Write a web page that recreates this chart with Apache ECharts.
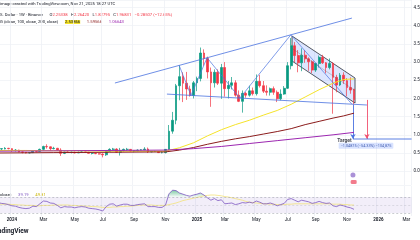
<!DOCTYPE html>
<html><head><meta charset="utf-8">
<script src="https://cdn.jsdelivr.net/npm/echarts@6.0.0/dist/echarts.min.js"></script>
<style>html,body{margin:0;padding:0;background:#fff}#c{width:420px;height:240px}</style>
</head><body><div id="c"></div>
<script>
// weekly categories, Dec 4 2023 .. Mar 9 2026
const weeks = [];
for (let i = 0; i < 119; i++) { const d = new Date(Date.UTC(2023, 11, 4 + 7 * i)); weeks.push(d.toISOString().slice(0, 10)); }
const timeTicks = {'2024-01-01':'2024','2024-03-04':'Mar','2024-05-06':'May','2024-07-01':'Jul','2024-09-02':'Sep','2024-11-04':'Nov',
  '2025-01-06':'2025','2025-03-03':'Mar','2025-05-05':'May','2025-07-07':'Jul','2025-09-01':'Sep','2025-11-03':'Nov','2026-01-05':'2026','2026-03-02':'Mar'};

// weekly candles [open, high, low, close]
const candles = [
[0.62,0.67,0.59,0.61],[0.61,0.63,0.58,0.62],[0.61,0.66,0.60,0.63],[0.63,0.64,0.60,0.62],[0.62,0.63,0.53,0.57],
[0.57,0.61,0.54,0.58],[0.58,0.59,0.52,0.53],[0.53,0.54,0.49,0.52],[0.52,0.52,0.49,0.50],[0.50,0.52,0.49,0.51],
[0.51,0.57,0.50,0.55],[0.55,0.56,0.52,0.54],[0.54,0.62,0.53,0.60],[0.60,0.70,0.56,0.68],[0.68,0.74,0.62,0.67],
[0.67,0.68,0.56,0.62],[0.62,0.67,0.60,0.63],[0.63,0.64,0.56,0.58],[0.58,0.63,0.42,0.49],[0.49,0.54,0.47,0.53],
[0.53,0.56,0.51,0.52],[0.52,0.54,0.49,0.52],[0.52,0.54,0.49,0.50],[0.50,0.54,0.50,0.52],[0.52,0.55,0.51,0.53],
[0.53,0.54,0.51,0.52],[0.52,0.53,0.48,0.49],[0.49,0.50,0.46,0.49],[0.49,0.50,0.47,0.48],[0.48,0.49,0.46,0.47],
[0.47,0.49,0.38,0.45],[0.45,0.55,0.42,0.54],[0.54,0.63,0.52,0.60],[0.60,0.64,0.57,0.61],[0.61,0.63,0.50,0.52],
[0.52,0.64,0.43,0.57],[0.57,0.62,0.54,0.60],[0.60,0.64,0.56,0.60],[0.60,0.61,0.54,0.56],[0.56,0.58,0.52,0.56],
[0.56,0.60,0.55,0.58],[0.58,0.61,0.57,0.59],[0.59,0.66,0.58,0.61],[0.61,0.65,0.50,0.53],[0.53,0.55,0.52,0.54],
[0.54,0.56,0.53,0.54],[0.54,0.54,0.50,0.51],[0.51,0.55,0.49,0.51],[0.51,0.61,0.49,0.60],[0.60,1.27,0.59,1.10],
[1.10,1.63,1.03,1.40],[1.40,2.40,1.29,2.35],[2.35,2.91,1.95,2.60],[2.60,2.72,1.90,2.42],[2.42,2.73,1.96,2.26],
[2.26,2.35,2.05,2.08],[2.08,2.48,2.00,2.43],[2.43,2.60,2.20,2.55],[2.55,3.40,2.47,3.25],[3.25,3.35,2.90,3.10],
[3.10,3.15,2.55,2.73],[2.73,2.85,1.77,2.43],[2.43,2.80,2.30,2.72],[2.72,2.80,2.37,2.42],[2.42,2.95,1.99,2.85],
[2.85,3.00,2.05,2.27],[2.27,2.48,2.00,2.36],[2.36,2.59,2.25,2.43],[2.43,2.50,2.05,2.09],[2.09,2.22,1.90,1.92],
[1.92,2.22,1.61,2.14],[2.14,2.18,2.02,2.09],[2.09,2.35,2.05,2.21],[2.21,2.30,2.08,2.13],[2.13,2.66,2.08,2.47],
[2.47,2.65,2.30,2.35],[2.35,2.48,2.15,2.20],[2.20,2.36,2.08,2.17],[2.17,2.30,2.08,2.27],[2.27,2.33,2.10,2.17],
[2.17,2.22,1.90,1.99],[1.99,2.25,1.95,2.12],[2.12,2.34,2.10,2.28],[2.28,3.00,2.26,2.90],[2.90,3.66,2.80,3.45],
[3.45,3.55,3.00,3.18],[3.18,3.33,2.72,2.98],[2.98,3.38,2.75,3.19],[3.19,3.33,2.98,3.09],[3.09,3.13,2.76,3.01],
[3.01,3.05,2.70,2.78],[2.78,2.98,2.73,2.96],[2.96,3.18,2.85,3.13],[3.13,3.20,2.95,2.98],[2.98,3.00,2.69,2.85],
[2.85,3.10,2.80,2.96],[2.96,3.00,1.58,2.58],[2.58,2.65,2.17,2.37],[2.37,2.70,2.34,2.64],[2.64,2.72,2.40,2.49],
[2.49,2.56,2.06,2.30],[2.30,2.58,2.13,2.23],[2.25338,2.26420,1.82795,1.96831]
];

// moving averages: [week index, value]
const sma50 = [[0,0.57],[8,0.57],[16,0.56],[24,0.56],[32,0.55],[40,0.55],[48,0.55],[52,0.645],[56,0.78],[60,0.97],[64,1.14],[68,1.28],[72,1.40],[76,1.54],[80,1.67],[84,1.84],[88,2.04],[92,2.24],[96,2.42],[99,2.52],[102,2.53866]];
const sma100 = [[0,0.50],[16,0.51],[32,0.52],[48,0.53],[52,0.58],[56,0.65],[60,0.74],[64,0.82],[68,0.89],[72,0.95],[76,1.02],[80,1.09],[84,1.17],[88,1.28],[92,1.37],[96,1.46],[99,1.52],[102,1.59566]];
const sma200 = [[0,0.55],[16,0.56],[32,0.57],[48,0.58],[56,0.62],[64,0.68],[72,0.76],[80,0.84],[88,0.92],[96,1.00],[102,1.06643]];

// RSI pane
const rsi = [56,54,53,51,48,47,44,42,41,42,47,46,53,60,59,55,54,49,43,46,45,45,43,45,46,45,42,41,40,38,35,
46,52,53,47,50,52,52,49,49,51,52,53,46,46,46,44,44,50,78,87,86,80,77,74,72,75,77,80,75,68,
62,66,61,63,53,54,55,51,53,56,55,57,55,60,57,53,53,55,52,48,51,54,64,66,62,58,62,60,58,54,
56,59,56,54,55,48,46,50,48,45,43,39.19];
const rsiMA = [52,52,52,52,51,51,50,50,49,49,49,48,48,49,49,49,50,50,50,50,50,49,49,48,48,47,47,46,46,45,44,
44,44,45,45,46,46,47,47,48,49,50,50,50,50,49,49,49,49,51,53,55,58,61,63,65,67,69,71,73,74,
75,75,74,73,71,70,68,66,64,62,59,57,56,55,54,53,53,52,52,51,51,51,52,52,53,53,53,53,53,53,
53,53,53,53,53,52,52,52,51,51,50,49.81];
const rsiOverbought = {48:70,49:78,50:87,51:86,52:80,53:77,54:74,55:72,56:75,57:77,58:80,59:75,60:70};

// drawing annotations: [week index, price]
const resistanceLine = [[33.5,2.425],[101.4,4.21]];
const supportLine = [[48.4,2.12],[105.7,1.82]];
const swingPath = [[51.9,2.909],[55.3,2.084],[59.9,3.119],[69.3,2.01],[83.9,3.75],[101.4,1.8425]];
const channel = [[84.24,3.7175],[102.29,2.5625],[102.29,1.875],[84.24,3.03]];
const channelMid = [[84.24,3.374],[102.29,2.219]];
const targetPrice = 0.885;
const targetDrop = [[101.7,1.82],[101.7,0.885]];
const targetLevel = [[101.7,0.885],[118.5,0.885]];
const projection = [[105.7,1.96],[105.7,0.885]];

const FONT = 'Roboto, "Liberation Sans", sans-serif';
const UP = '#089981', DOWN = '#F23645', BLUE = '#4a72e0';
const N = weeks.length;

const lastIdx = candles.length - 1;
const tag = (v, text, bg, fg) => ({
  silent: true, symbol: 'none', lineStyle: {opacity: 0},
  label: {show: true, position: 'end', distance: 1, formatter: text, backgroundColor: bg, color: fg || '#fff',
    fontSize: 4.5, fontFamily: FONT, padding: [1, 1.5], lineHeight: 5},
  data: [{yAxis: v}]
});
const seg = (data, color, width, type) => ({
  type: 'line', xAxisIndex: 1, yAxisIndex: 0, data, showSymbol: false, symbol: 'none', silent: true,
  lineStyle: {color, width, type: type || 'solid'}, z: 5
});
const arrow = (pts, color) => ({
  type: 'line', xAxisIndex: 1, yAxisIndex: 0, data: [], silent: true, z: 6,
  markLine: {silent: true, symbol: ['none', 'arrow'], symbolSize: [4, 5], label: {show: false},
    lineStyle: {color, width: 0.9, type: 'solid'},
    data: [[{coord: pts[0]}, {coord: pts[1]}]]}
});

const chart = echarts.init(document.getElementById('c'), null, {renderer: 'canvas'});
const tickShown = (i) => timeTicks[weeks[i]] !== undefined;

chart.setOption({
  animation: false,
  backgroundColor: '#ffffff',
  grid: [
    {left: -3.75, right: 8.4, top: 0, height: 185, outerBoundsMode: 'none', containLabel: false},
    {left: -3.75, right: 8.4, top: 186, height: 30, outerBoundsMode: 'none', containLabel: false}
  ],
  xAxis: [
    {type: 'category', gridIndex: 0, data: weeks, boundaryGap: true, axisLine: {show: false}, axisTick: {show: false},
      axisLabel: {show: false}, splitLine: {show: true, interval: tickShown, lineStyle: {color: '#eef0f5', width: 0.8}}},
    {type: 'value', gridIndex: 0, min: -0.5, max: N - 0.5, show: false},
    {type: 'category', gridIndex: 1, data: weeks, boundaryGap: true, axisLine: {show: false}, axisTick: {show: false},
      axisLabel: {interval: tickShown, margin: 1.5, fontSize: 4.5, fontFamily: FONT, color: '#131722',
        formatter: (v) => { const t = timeTicks[v] || ''; return /^\d{4}$/.test(t) ? '{y|' + t + '}' : t; },
        rich: {y: {fontSize: 4.5, fontWeight: 'bold', fontFamily: FONT, color: '#131722'}}},
      splitLine: {show: true, interval: tickShown, lineStyle: {color: '#eef0f5', width: 0.8}}},
    {type: 'value', gridIndex: 1, min: -0.5, max: N - 0.5, show: false}
  ],
  yAxis: [
    {type: 'value', gridIndex: 0, position: 'right', min: -0.38, max: 4.7075, splitNumber: 10, scale: true,
      axisLine: {show: false}, axisTick: {show: false},
      axisLabel: {margin: 2, fontSize: 4.5, fontFamily: FONT, color: '#131722',
        formatter: (v) => (Math.abs(v * 2 - Math.round(v * 2)) < 1e-6 ? v.toFixed(4) : '')},
      splitLine: {lineStyle: {color: '#f0f2f6', width: 0.8}}},
    {type: 'value', gridIndex: 1, position: 'right', min: 22.5, max: 97.5, axisLine: {show: false}, axisTick: {show: false},
      axisLabel: {show: false}, splitLine: {show: false}}
  ],
  series: [
    {type: 'candlestick', xAxisIndex: 0, yAxisIndex: 0, barWidth: 2.3, z: 3,
      data: candles.map(([o, h, l, c]) => [o, c, l, h]),
      itemStyle: {color: UP, color0: DOWN, borderColor: UP, borderColor0: DOWN, borderWidth: 0.7},
      markLine: tag(candles[lastIdx][3], candles[lastIdx][3].toFixed(5) + '\n2d 5h', DOWN)},
    Object.assign(seg(sma50, '#f5e32a', 1), {markLine: tag(sma50[sma50.length - 1][1], sma50[sma50.length - 1][1].toFixed(5), '#f5e32a', '#131722')}),
    Object.assign(seg(sma100, '#8b1c1c', 1), {markLine: tag(sma100[sma100.length - 1][1], sma100[sma100.length - 1][1].toFixed(5), '#8b1c1c')}),
    Object.assign(seg(sma200, '#9c27b0', 1), {markLine: tag(sma200[sma200.length - 1][1], sma200[sma200.length - 1][1].toFixed(5), '#9c27b0')}),
    seg(resistanceLine, BLUE, 0.8),
    seg(supportLine, BLUE, 0.8),
    seg(swingPath, BLUE, 0.7),
    {type: 'custom', xAxisIndex: 1, yAxisIndex: 0, silent: true, z: 2, data: [channel[0]],
      renderItem: (params, api) => ({type: 'polygon', shape: {points: channel.map((p) => api.coord(p))},
        style: {fill: 'rgba(41,98,255,0.16)', stroke: '#2a2e39', lineWidth: 0.8}})},
    seg(channelMid, '#555a66', 0.6, 'dotted'),
    Object.assign(seg(targetLevel, BLUE, 0.9), {markLine: tag(targetPrice, targetPrice.toFixed(5), '#2962FF')}),
    arrow(targetDrop, BLUE),
    arrow(projection, '#f0506e'),
    {type: 'scatter', xAxisIndex: 1, yAxisIndex: 0, symbolSize: 0, silent: true, z: 7,
      data: [
        {value: [97.2, 0.84], label: {show: true, position: 'right', distance: 0, formatter: 'Target', fontSize: 5, fontWeight: 'bold', color: '#131722', fontFamily: FONT}},
        {value: [97.6, 0.70], label: {show: true, position: 'right', distance: 0, formatter: '\u22121.04875 (\u221254.33%) \u2212104,875', fontSize: 3.8, color: '#1e3f9e', fontFamily: FONT, backgroundColor: 'rgba(41,98,255,0.22)', padding: [1, 2], borderRadius: 1}}
      ]},
    {type: 'scatter', xAxisIndex: 1, yAxisIndex: 0, silent: true, z: 7,
      data: [
        {value: [101.7, -0.105], symbol: 'circle', symbolSize: 5, itemStyle: {color: '#9575cd'}},
        {value: [101.9, -0.30], symbol: 'roundRect', symbolSize: [6, 4], itemStyle: {color: '#ef5a6f'}}
      ]},
    // RSI
    {type: 'line', xAxisIndex: 2, yAxisIndex: 1, data: weeks.map((w, i) => rsiOverbought[i] !== undefined ? rsiOverbought[i] : '-'),
      showSymbol: false, silent: true, lineStyle: {width: 0}, z: 2,
      areaStyle: {origin: 70, color: new echarts.graphic.LinearGradient(0, 0, 0, 1, [{offset: 0, color: 'rgba(8,153,80,0.75)'}, {offset: 1, color: 'rgba(8,153,80,0.05)'}])}},
    {type: 'line', xAxisIndex: 2, yAxisIndex: 1, data: rsiMA, showSymbol: false, silent: true, z: 3,
      lineStyle: {color: '#f3e27a', width: 0.8},
      markLine: tag(rsiMA[rsiMA.length - 1], rsiMA[rsiMA.length - 1].toFixed(2), '#f5e32a', '#131722')},
    {type: 'line', xAxisIndex: 2, yAxisIndex: 1, data: rsi, showSymbol: false, silent: true, z: 4,
      lineStyle: {color: '#7e57c2', width: 0.8},
      markArea: {silent: true, itemStyle: {color: 'rgba(126,87,194,0.1)'}, data: [[{yAxis: 30}, {yAxis: 70}]]},
      markLine: {silent: true, symbol: 'none', label: {show: false}, lineStyle: {color: '#9598a1', width: 0.5, type: [2, 2]},
        data: [{yAxis: 70}, {yAxis: 50, lineStyle: {opacity: 0.5}}, {yAxis: 30}, {yAxis: rsi[rsi.length - 1], lineStyle: {opacity: 0},
          label: {show: true, position: 'end', distance: 1, formatter: rsi[rsi.length - 1].toFixed(2), backgroundColor: '#7e57c2', color: '#fff', fontSize: 4.5, padding: [1, 1.5]}}]}}
  ],
  graphic: [
    {type: 'text', left: 0, top: 2, silent: true, style: {text: 'image created with TradingView.com, Nov 21, 2025 18:27 UTC', fontSize: 4.2, fontFamily: FONT, fill: '#131722'}},
    {type: 'text', left: 0, top: 9, silent: true, style: {
      text: '{n|S. Dollar \u00b7 1W \u00b7 Binance}  {k|O}{r|2.25338} {k|H}{r|2.26420} {k|L}{r|1.82795} {k|C}{r|1.96831} {r|\u22120.28507 (\u221212.65%)}',
      rich: {n: {fontSize: 4.2, fontFamily: FONT, fill: '#131722'}, k: {fontSize: 4.2, fontFamily: FONT, fill: '#131722'}, r: {fontSize: 4.2, fontFamily: FONT, fill: '#F23645'}}}},
    {type: 'text', left: 0, top: 16, silent: true, style: {
      text: '{n|G (close, 100, close, 200, close)}  {y|2.53866}  {d|1.59566}  {p|1.06643}',
      rich: {n: {fontSize: 4.2, fontFamily: FONT, fill: '#131722'}, y: {fontSize: 4.2, fontFamily: FONT, fill: '#131722', backgroundColor: '#f5e32a'},
        d: {fontSize: 4.2, fontFamily: FONT, fill: '#8b1c1c'}, p: {fontSize: 4.2, fontFamily: FONT, fill: '#9c27b0'}}}},
    {type: 'text', left: 0, top: 189, silent: true, style: {
      text: '{n|close)}  {p|39.19}  {y|49.81}',
      rich: {n: {fontSize: 4.2, fontFamily: FONT, fill: '#131722'}, p: {fontSize: 4.2, fontFamily: FONT, fill: '#7e57c2'}, y: {fontSize: 4.2, fontFamily: FONT, fill: '#c9b400'}}}},
    {type: 'text', x: -8, y: 228, silent: true, style: {text: 'TradingView', fontSize: 6.5, fontWeight: 'bold', fontFamily: FONT, fill: '#131722'}}
  ]
});
</script></body></html>
